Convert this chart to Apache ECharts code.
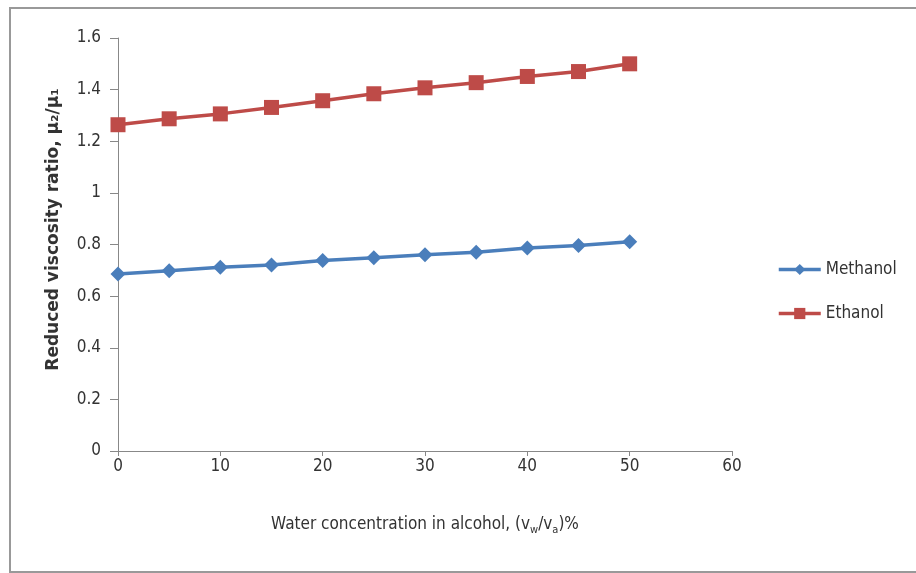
<!DOCTYPE html>
<html><head><meta charset="utf-8">
<script src="https://cdn.jsdelivr.net/npm/echarts@6/dist/echarts.min.js"></script>
<style>html,body{margin:0;padding:0;background:#fff}#c{width:916px;height:573px}</style>
</head><body><div id="c"></div>
<script>
const xValues = [0, 5, 10, 15, 20, 25, 30, 35, 40, 45, 50];
const methanol = [0.686, 0.698, 0.712, 0.721, 0.738, 0.749, 0.760, 0.770, 0.786, 0.796, 0.811];
const ethanol = [1.264, 1.287, 1.306, 1.331, 1.357, 1.384, 1.407, 1.427, 1.451, 1.470, 1.500];
const seriesNames = ['Methanol', 'Ethanol'];
const FONT = "'Liberation Sans Narrow', 'DejaVu Sans Condensed', 'Open Sans', sans-serif";
const chart = echarts.init(document.getElementById('c'));
const pair = a => xValues.map((x, i) => [x, a[i]]);
chart.setOption({
  animation: false,
  backgroundColor: '#fff',
  graphic: [
    {type: 'rect', shape: {x: 10, y: 8, width: 920, height: 564}, style: {fill: 'none', stroke: '#999', lineWidth: 2}}
  ],
  grid: {left: 118, right: 184, top: 38, bottom: 122},
  legend: {
    orient: 'vertical', left: 772, top: 256, itemGap: 27, itemWidth: 42, itemHeight: 14,
    lineStyle: {width: 3.5},
    textStyle: {fontFamily: FONT, fontSize: 17, color: '#333'},
    data: seriesNames
  },
  xAxis: {
    type: 'value', min: 0, max: 60, interval: 10,
    name: '{a|Water concentration in alcohol, (v}{s|w}{a|/v}{s|a}{a|)%}',
    nameLocation: 'middle', nameGap: 62,
    nameTextStyle: {rich: {
      a: {fontFamily: FONT, fontSize: 17, color: '#333'},
      s: {fontFamily: FONT, fontSize: 11, color: '#333', padding: [12, 0, 0, 0]}
    }},
    axisLine: {lineStyle: {color: '#888'}},
    axisTick: {show: true, length: 5, lineStyle: {color: '#888'}},
    splitLine: {show: false},
    axisLabel: {fontFamily: FONT, fontSize: 17, color: '#333', margin: 7}
  },
  yAxis: {
    type: 'value', min: 0, max: 1.6, interval: 0.2,
    name: 'Reduced viscosity ratio, μ₂/μ₁',
    nameLocation: 'middle', nameGap: 56,
    nameTextStyle: {fontFamily: "'DejaVu Sans', sans-serif", fontSize: 17, color: '#333', fontWeight: 'bold', padding: [0, 0, 0, 30]},
    axisLine: {show: true, lineStyle: {color: '#888'}},
    axisTick: {show: true, length: 8, lineStyle: {color: '#888'}},
    splitLine: {show: false},
    axisLabel: {fontFamily: FONT, fontSize: 17, color: '#333', margin: 17}
  },
  series: [
    {name: seriesNames[0], type: 'line', data: pair(methanol), symbol: 'diamond', symbolSize: 15,
     lineStyle: {width: 3.5, color: '#4A7EBB'}, itemStyle: {color: '#4A7EBB'}},
    {name: seriesNames[1], type: 'line', data: pair(ethanol), symbol: 'rect', symbolSize: 15,
     lineStyle: {width: 3.5, color: '#BE4B48'}, itemStyle: {color: '#BE4B48'}}
  ]
});
</script></body></html>
